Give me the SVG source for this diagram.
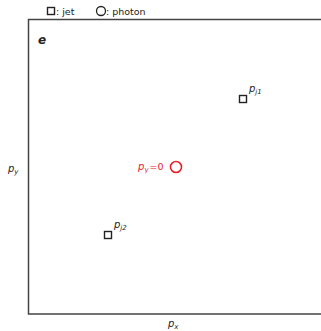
<svg xmlns="http://www.w3.org/2000/svg" width="321" height="331" viewBox="0 0 321 331">
<style>
text{font-family:"DejaVu Sans","Liberation Sans",sans-serif;fill:#222}
.lab{font-size:10px;font-style:italic}
.sub{font-size:7px;font-style:italic}
.leg{font-size:9.5px}
.jet{fill:none;stroke:#222;stroke-width:1.4}
.red{fill:#e8202a}
</style>
<g id="legend">
<rect class="jet" x="47.5" y="7.5" width="7" height="7"/>
<text class="leg" x="56" y="15">: jet</text>
<circle cx="101" cy="11" r="4.5" fill="none" stroke="#222" stroke-width="1.3"/>
<text class="leg" x="106" y="15">: photon</text>
</g>
<g id="frame">
<path d="M321 19.5 H28.5 V314 H321" fill="none" stroke="#444" stroke-width="1.5"/>
<text x="38" y="44" font-size="12" font-style="italic" font-weight="bold">e</text>
<text class="lab" x="8" y="172">p<tspan class="sub" dy="2">y</tspan></text>
<text class="lab" x="168" y="327">p<tspan class="sub" dy="2">x</tspan></text>
</g>
<g id="jet1">
<rect class="jet" x="239.5" y="95.5" width="7" height="7"/>
<text class="lab" x="249" y="92">p<tspan class="sub" dy="2">j1</tspan></text>
</g>
<g id="jet2">
<rect class="jet" x="104.5" y="231.5" width="7" height="7"/>
<text class="lab" x="114" y="228">p<tspan class="sub" dy="2">j2</tspan></text>
</g>
<g id="photon">
<circle cx="176" cy="167" r="5.5" fill="none" stroke="#e8202a" stroke-width="1.6"/>
<text class="lab red" x="138" y="170">p<tspan class="sub red" dy="2">γ</tspan><tspan class="red" dx="1" dy="-2" font-style="normal" font-size="9.5">=0</tspan></text>
</g>
<g id="connectors"/>
</svg>
